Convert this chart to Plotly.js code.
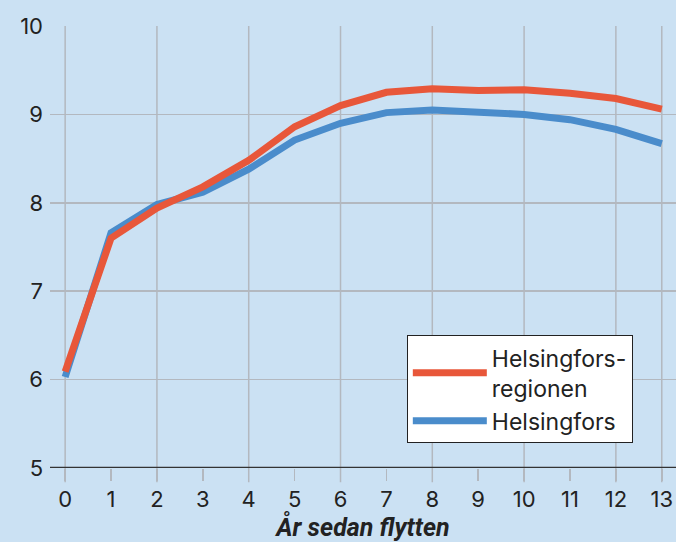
<!DOCTYPE html>
<html><head><meta charset="utf-8">
<script src="https://cdn.plot.ly/plotly-3.0.1.min.js"></script>
<style>html,body{margin:0;padding:0;background:#cbe1f3;}</style>
</head><body>
<div id="chart" style="width:676px;height:542px;"></div>
<script>
const years = [0,1,2,3,4,5,6,7,8,9,10,11,12,13];
const regionValues = [6.09,7.60,7.94,8.18,8.48,8.86,9.10,9.25,9.29,9.27,9.28,9.24,9.18,9.06];
const cityValues   = [6.03,7.66,7.98,8.12,8.38,8.71,8.90,9.02,9.05,9.02,9.00,8.94,8.83,8.67];
const regionName = "Helsingfors-<br>regionen";
const cityName = "Helsingfors";
const xTitle = "<b><i>År sedan flytten</i></b>";
const gridX = [0,2,4,6,8,10,12,13];

const font = "Inter, Roboto, 'Liberation Sans', sans-serif";
const shapes = gridX.map(v => ({type:'line', xref:'x', yref:'paper', x0:v, x1:v, y0:-0.032, y1:1,
  line:{color:'#b3b8bf', width:1.5}, layer:'below'}));

const traces = [
  {x:years, y:cityValues, name:cityName, type:'scatter', mode:'lines',
   line:{color:'#4a8ccb', width:7}},
  {x:years, y:regionValues, name:regionName, type:'scatter', mode:'lines',
   line:{color:'#e8573a', width:7}}
];
const layout = {
  width:676, height:542,
  paper_bgcolor:'#cbe1f3', plot_bgcolor:'#cbe1f3',
  margin:{l:50, r:0, t:26, b:74},
  font:{family:font, color:'#222', size:22},
  showlegend:true,
  legend:{x:0.57, y:0.30, xanchor:'left', yanchor:'top', bgcolor:'#ffffff',
    bordercolor:'#222', borderwidth:1, traceorder:'reversed', itemwidth:74,
    font:{size:23, color:'#222'}, tracegroupgap:4},
  xaxis:{range:[-0.33,13.31], tickvals:years, ticktext:years.map(String),
    showgrid:false, zeroline:false, showline:false,
    ticks:'outside', ticklen:12, tickcolor:'#b3b8bf', tickwidth:1.5,
    tickfont:{size:22, color:'#222'},
    title:{text:xTitle, font:{family:"Roboto, sans-serif", size:25, color:'#222'}, standoff:2}},
  yaxis:{range:[5,10], tickvals:[5,6,7,8,9,10], showgrid:true, gridcolor:'#b3b8bf', gridwidth:1.5,
    zeroline:false, showline:false, ticks:'', ticklabelstandoff:6,
    tickfont:{size:22, color:'#222'}},
  shapes: shapes.concat([{type:'line', xref:'paper', yref:'y', x0:0, x1:1, y0:5, y1:5,
    line:{color:'#333', width:2.5}}])
};
Plotly.newPlot('chart', traces, layout, {displayModeBar:false, staticPlot:true});
</script>
</body></html>
